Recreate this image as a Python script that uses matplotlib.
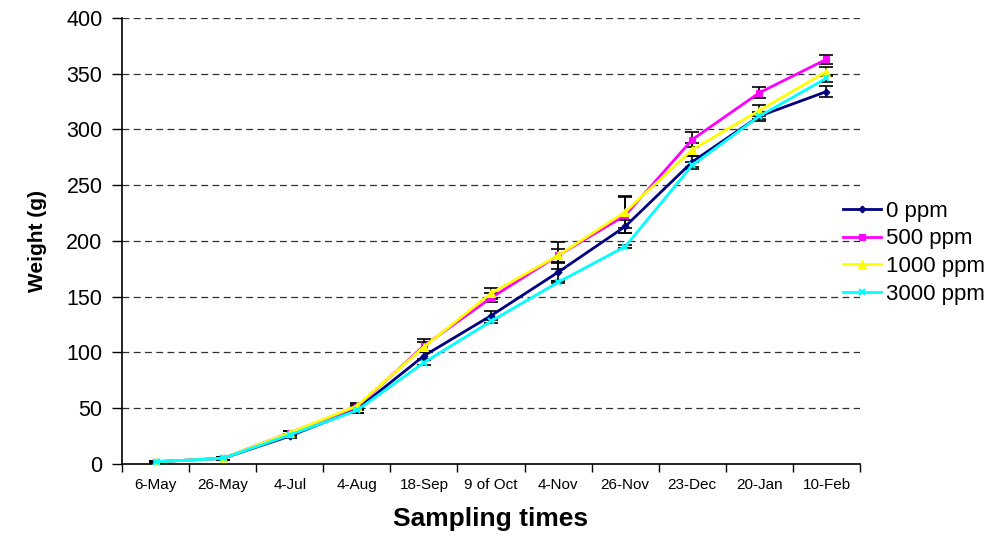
import matplotlib
matplotlib.use("Agg")
import matplotlib.pyplot as plt
import numpy as np

plt.rcParams["font.family"] = ["Liberation Sans", "DejaVu Sans"]

categories = ["6-May", "26-May", "4-Jul", "4-Aug", "18-Sep", "9 of Oct", "4-Nov",
              "26-Nov", "23-Dec", "20-Jan", "10-Feb"]
series_names = ["0 ppm", "500 ppm", "1000 ppm", "3000 ppm"]
w0 = [2, 5, 25, 49, 97, 133, 172, 213, 271, 312, 334]
w500 = [2, 5, 28, 51, 106, 149, 187, 223, 291, 333, 363]
w1000 = [2, 5, 28, 52, 105, 153, 187, 226, 282, 317, 352]
w3000 = [2, 5, 26, 48, 91, 128, 163, 195, 268, 312, 346]
e0 = [1, 1, 2, 3, 3, 4, 8, 6, 5, 4, 5]
e500 = [1, 1, 2, 3, 6, 4, 6, 16, 7, 5, 4]
e1000 = [1, 1, 2, 3, 4, 5, 12, 14, 6, 5, 4]
e3000 = [1, 1, 1, 2, 2, 2, 1, 1, 3, 3, 3]
colors = ["#000080", "#FF00FF", "#FFFF00", "#00FFFF"]
markers = ["D", "s", "^", "x"]
msizes = [3.5, 4.5, 5.5, 5]

fig = plt.figure(figsize=(9.96, 5.37), dpi=100)
ax = fig.add_axes([0.1225, 0.136, 0.741, 0.8305])
x = np.arange(len(categories))

data = [w0, w500, w1000, w3000]
errs = [e0, e500, e1000, e3000]
for vals, err in zip(data, errs):
    ax.errorbar(x, vals, yerr=err, fmt="none", ecolor="black", elinewidth=1.2,
                capsize=5, capthick=1.2, zorder=2)
for vals, name, c, m, ms in zip(data, series_names, colors, markers, msizes):
    ax.plot(x, vals, color=c, marker=m, markersize=ms, linewidth=2,
            markeredgewidth=1.5 if m == "x" else 0.8, label=name, zorder=3)

ax.set_xlim(-0.5, len(categories) - 0.5)
ax.set_ylim(0, 400)
ax.set_yticks(np.arange(0, 401, 50))
ax.tick_params(axis="y", labelsize=15.5, length=7, direction="out", width=1, pad=7)
ax.set_xticks(x)
ax.set_xticklabels(categories, fontsize=11)
ax.tick_params(axis="x", which="major", length=0, pad=10)
ax.set_xticks(np.arange(-0.5, len(categories), 1), minor=True)
ax.tick_params(axis="x", which="minor", length=6, width=1)

for yv in np.arange(50, 401, 50):
    ax.axhline(yv, color="#303030", linestyle=(0, (5.5, 3.5)), linewidth=0.9, zorder=1)

for s in ["top", "right"]:
    ax.spines[s].set_visible(False)
ax.spines["left"].set_linewidth(1.2)
ax.spines["bottom"].set_linewidth(1.2)

ax.set_ylabel("Weight (g)", fontsize=15, fontweight="bold", labelpad=14)
ax.set_xlabel("Sampling times", fontsize=19, fontweight="bold", labelpad=11)

ax.legend(loc="upper left", bbox_to_anchor=(0.965, 0.61), frameon=False,
          fontsize=16, handlelength=1.7, handletextpad=0.25, labelspacing=0.3,
          borderaxespad=0)

fig.savefig("out.png", dpi=100)
